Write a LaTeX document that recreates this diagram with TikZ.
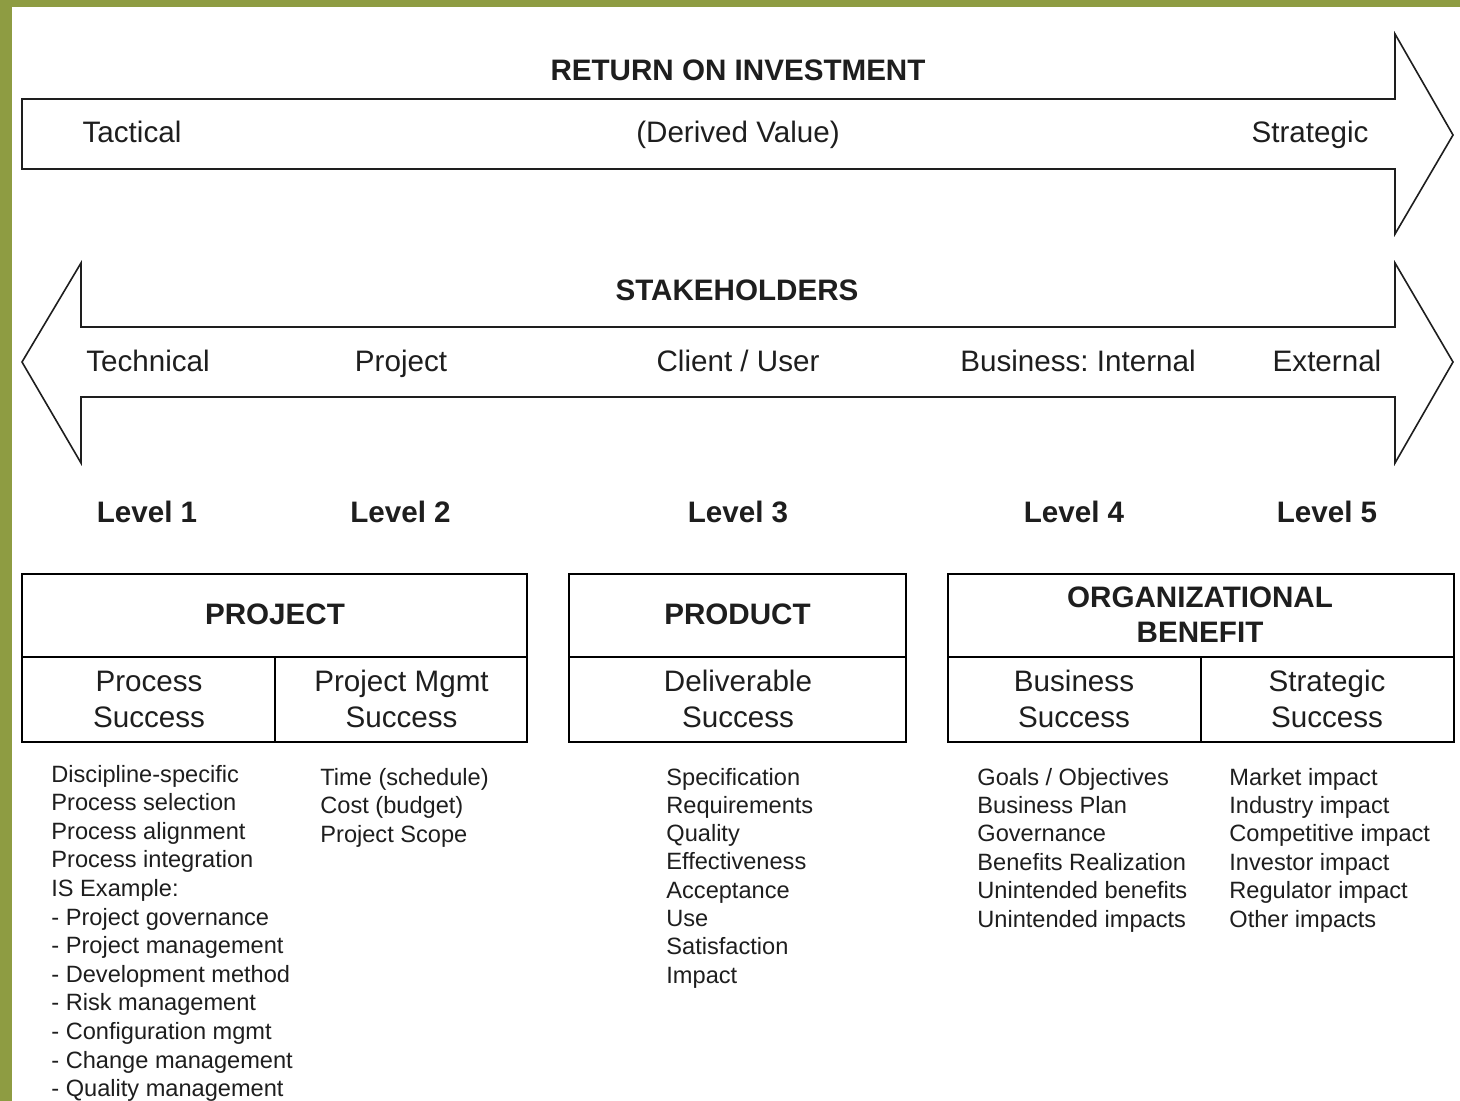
\documentclass[tikz,border=0pt]{standalone}
\usepackage{fontspec}
\setmainfont{Liberation Sans}
\usepackage{xcolor}
\usetikzlibrary{positioning}
\frenchspacing
\definecolor{bggreen}{HTML}{8E9C42}
\definecolor{ink}{HTML}{1E1E1E}
\tikzset{
  outline/.style={draw=ink, line width=0.8pt, fill=white, line join=miter},
  panel/.style={draw=black, line width=1.4pt},
  bigbold/.style={font=\fontsize{14.8}{17}\selectfont\bfseries, text=ink, anchor=base, inner sep=0pt},
  bigtext/.style={font=\fontsize{14.8}{17}\selectfont, text=ink, anchor=base, inner sep=0pt},
  item/.style={font=\fontsize{11.8}{14}\selectfont, text=ink, anchor=base west, inner sep=0pt},
}

\begin{document}
\begin{tikzpicture}[x=0.5pt, y=-0.5pt]
    % background
    \fill[bggreen] (0,0) rectangle (1460,1101);
    \fill[white] (12,7) rectangle (1460,1101);
    \useasboundingbox (0,0) rectangle (1460,1101);

    % return on investment arrow
    \draw[outline] (22,99) -- (1395,99) -- (1395,34) -- (1453,135)
      -- (1395,234) -- (1395,169) -- (22,169) -- cycle;
    \node[bigbold] (roi) at (738,80.5) {RETURN ON INVESTMENT};
    \node[bigtext] (tactical) at (132,142.5) {Tactical};
    \node[bigtext] (derived) at (738,142.5) {(Derived Value)};
    \node[bigtext] (strategic) at (1310,142.5) {Strategic};

    % stakeholders arrow
    \draw[outline] (22,362) -- (81,263) -- (81,327) -- (1395,327) -- (1395,263)
      -- (1453,362) -- (1395,463) -- (1395,397) -- (81,397) -- (81,463) -- cycle;
    \node[bigbold] (stake) at (737,300.5) {STAKEHOLDERS};
    \node[bigtext] (technical) at (148,371.5) {Technical};
    \node[bigtext] (project) at (401,371.5) {Project};
    \node[bigtext] (client) at (738,371.5) {Client / User};
    \node[bigtext] (internal) at (1078,371.5) {Business: Internal};
    \node[bigtext] (external) at (1327,371.5) {External};

    % levels
    \node[bigbold] (lv1) at (147,522) {Level 1};
    \node[bigbold] (lv2) at (400.5,522) {Level 2};
    \node[bigbold] (lv3) at (738,522) {Level 3};
    \node[bigbold] (lv4) at (1074,522) {Level 4};
    \node[bigbold] (lv5) at (1327,522) {Level 5};

    % boxes
    \draw[panel] (22,574) rectangle (527,742);
    \draw[panel] (22,657) -- (527,657) (275,657) -- (275,742);
    \draw[panel] (569,574) rectangle (906,742);
    \draw[panel] (569,657) -- (906,657);
    \draw[panel] (948,574) rectangle (1454,742);
    \draw[panel] (948,657) -- (1454,657) (1201,657) -- (1201,742);

    \node[bigbold] (projhead) at (275,624.5) {PROJECT};
    \node[bigbold] (prodhead) at (737.5,624.5) {PRODUCT};
    \node[bigbold] (orghead1) at (1200,607.5) {ORGANIZATIONAL};
    \node[bigbold] (orghead2) at (1200,642.5) {BENEFIT};

    \node[bigtext] (proc1) at (149,691.5) {Process};
    \node[bigtext] (proc2) at (149,727.5) {Success};
    \node[bigtext] (pm1) at (401.5,691.5) {Project Mgmt};
    \node[bigtext] (pm2) at (401.5,727.5) {Success};
    \node[bigtext] (deliv1) at (738,691.5) {Deliverable};
    \node[bigtext] (deliv2) at (738,727.5) {Success};
    \node[bigtext] (bus1) at (1074,691.5) {Business};
    \node[bigtext] (bus2) at (1074,727.5) {Success};
    \node[bigtext] (strat1) at (1327,691.5) {Strategic};
    \node[bigtext] (strat2) at (1327,727.5) {Success};

    % lists
    \foreach \t [count=\i] in {Discipline-specific, Process selection,
      Process alignment, Process integration, IS Example:,
      - Project governance, - Project management, - Development method,
      - Risk management, - Configuration mgmt, - Change management,
      - Quality management}
      \node[item] (procitem\i) at (51,{753.4+28.6*\i}) {\t};
    \foreach \t [count=\i] in {Time (schedule), Cost (budget), Project Scope}
      \node[item] (pmitem\i) at (320,{756.5+28.5*\i}) {\t};
    \foreach \t [count=\i] in {Specification, Requirements, Quality,
      Effectiveness, Acceptance, Use, Satisfaction, Impact}
      \node[item] (delivitem\i) at (666,{756.7+28.3*\i}) {\t};
    \foreach \t [count=\i] in {Goals / Objectives, Business Plan, Governance,
      Benefits Realization, Unintended benefits, Unintended impacts}
      \node[item] (busitem\i) at (977,{756.6+28.4*\i}) {\t};
    \foreach \t [count=\i] in {Market impact, Industry impact,
      Competitive impact, Investor impact, Regulator impact, Other impacts}
      \node[item] (stratitem\i) at (1229,{756.6+28.4*\i}) {\t};
\end{tikzpicture}
\end{document}
